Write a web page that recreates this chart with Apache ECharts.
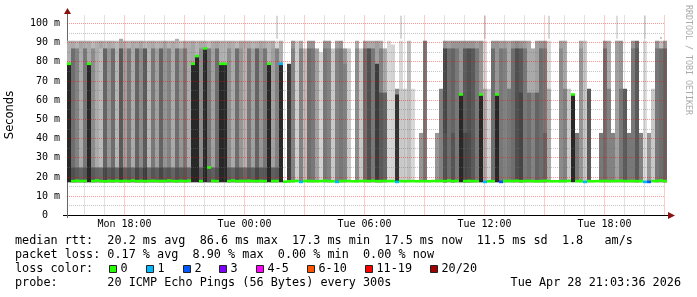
<!DOCTYPE html>
<html><head><meta charset="utf-8">
<script src="https://cdn.jsdelivr.net/npm/echarts@6/dist/echarts.min.js"></script>
<style>html,body{margin:0;padding:0;background:#fff}#c{width:697px;height:297px}</style>
</head><body><div id="c"></div>
<script>
// time axis in hours relative to Mon 18:00
const T0 = -2.875, BIN = 0.2, SPAN = 29.9, Y_MAX = 104.4;
const smokeFloor = 17.3;
const xTickHours = [0, 6, 12, 18, 24];
const xTickLabels = ['Mon 18:00', 'Tue 00:00', 'Tue 06:00', 'Tue 12:00', 'Tue 18:00'];
const yTicks = [0, 10, 20, 30, 40, 50, 60, 70, 80, 90, 100];

// smoke: per 12-minute bin, top (ms) and gray level of three layers
const smokeMax = [
 91,91,91,91,91,91,91,91,91,91,
 91,91,91,92,91,91,91,91,91,91,
 91,91,91,91,91,91,91,92,91,91,
 91,91,91,91,91,91,91,91,91,91,
 91,91,91,91,91,91,91,91,91,91,
 91,91,104,91,0,79,91,91,91,87,
 91,91,87,85,91,91,87,91,91,87,
 87,0,91,87,91,91,91,91,91,87,
 91,89,66,104,66,91,66,0,43,91,
 0,0,43,66,91,91,91,91,91,91,
 91,91,91,91,104,66,91,91,91,91,
 91,91,91,91,91,91,87,91,91,91,
 104,0,0,91,91,66,63,43,91,91,
 66,0,0,43,91,91,43,104,91,66,
 43,91,91,43,104,43,66,91,93,91];
const smokeMaxShade = [
 175,170,180,165,175,170,185,175,165,180,
 170,175,185,165,175,180,170,175,165,185,
 175,170,180,175,165,180,170,175,185,170,
 175,165,180,170,175,185,170,165,175,180,
 170,175,185,165,175,170,180,175,165,175,
 180,170,215,175,0,60,150,205,170,190,
 150,150,160,210,150,150,200,160,150,150,
 200,0,170,200,160,170,170,160,170,170,
 215,210,140,215,205,190,215,0,150,120,
 0,0,150,130,150,160,150,150,150,150,
 150,150,160,150,215,210,150,150,160,160,
 170,150,140,150,160,170,170,160,150,150,
 215,0,0,160,170,200,40,120,170,200,
 90,0,0,120,150,170,130,220,150,90,
 120,150,110,130,220,150,200,150,190,150];
const smokeMid = [
 79,87,87,87,87,79,87,87,87,87,
 87,87,87,87,87,87,87,87,87,87,
 87,87,87,87,87,87,87,87,87,87,
 87,79,83,87,87,87,87,87,79,79,
 87,87,87,87,87,87,87,87,87,87,
 79,87,87,79,0,0,87,0,87,0,
 87,87,0,0,87,87,0,87,87,79,
 0,0,87,0,87,87,87,79,87,64,
 0,0,63,66,0,0,0,0,0,0,
 0,0,0,0,87,87,87,87,63,87,
 87,87,87,63,66,0,87,63,87,87,
 66,87,87,87,87,64,64,64,87,87,
 66,0,0,87,66,0,0,0,87,0,
 0,0,0,0,87,66,0,91,66,0,
 0,87,87,0,0,0,0,87,87,87];
const smokeMidShade = [
 40,110,130,170,120,40,140,170,185,100,
 150,110,180,90,160,120,170,100,140,90,
 180,120,160,100,150,130,170,110,150,120,
 170,40,40,140,40,120,160,110,40,40,
 140,170,110,150,180,120,160,100,150,120,
 40,160,130,40,0,0,130,0,130,0,
 110,120,0,0,120,130,0,130,120,130,
 0,0,140,0,110,80,120,60,130,100,
 0,0,50,200,0,0,0,0,0,0,
 0,0,0,0,70,110,100,120,40,90,
 80,90,120,40,170,0,110,40,120,130,
 120,110,80,90,120,110,130,100,110,120,
 170,0,0,140,130,0,0,0,150,0,
 0,0,0,0,110,130,0,160,120,0,
 0,120,90,0,0,0,0,120,110,100];
const smokeLow = [
 0,25,25,25,25,0,25,25,25,25,
 25,25,25,25,25,25,25,25,25,25,
 25,25,25,25,25,25,25,25,25,25,
 25,0,0,25,0,25,25,25,0,0,
 25,25,25,25,25,25,25,25,25,25,
 0,25,25,0,0,0,0,0,0,0,
 0,0,0,0,0,0,0,0,0,0,
 0,0,0,0,0,0,0,0,64,0,
 0,0,0,0,0,0,0,0,0,0,
 0,0,0,0,43,0,43,0,0,43,
 43,0,0,0,0,0,0,0,0,0,
 0,0,0,64,0,0,0,0,0,43,
 0,0,0,0,0,0,0,0,0,0,
 0,0,0,0,0,0,0,0,0,0,
 0,0,0,0,0,0,0,0,0,0];
const smokeLowShade = [
 0,80,90,100,85,0,90,100,105,70,
 90,80,100,60,95,85,100,70,90,60,
 105,85,95,70,90,85,100,80,90,85,
 100,0,0,90,0,85,95,80,0,0,
 90,100,80,90,105,85,95,70,90,85,
 0,95,90,0,0,0,0,0,0,0,
 0,0,0,0,0,0,0,0,0,0,
 0,0,0,0,0,0,0,0,90,0,
 0,0,0,0,0,0,0,0,0,0,
 0,0,0,0,80,0,85,0,0,70,
 75,0,0,0,0,0,0,0,0,0,
 0,0,0,70,0,0,0,0,0,100,
 0,0,0,0,0,0,0,0,0,0,
 0,0,0,0,0,0,0,0,0,0,
 0,0,0,0,0,0,0,0,0,0];
const medianRtt = [
 79,17.9,18.1,17.9,18.0,79,17.9,18.2,17.9,17.8,
 18.0,17.9,18.1,17.9,18.0,17.9,18.2,17.9,18.0,17.9,
 17.9,18.1,17.9,18.0,17.9,18.2,17.9,17.9,18.0,17.9,
 18.1,79,83,17.9,87,25,18.0,17.9,79,79,
 17.9,18.2,17.9,18.0,17.9,18.1,17.9,17.9,18.0,17.9,
 79,17.9,18.0,79,17.6,17.8,17.9,18.0,17.5,17.9,
 18.0,17.9,17.8,17.9,18.1,17.9,17.8,17.5,17.9,18.0,
 17.9,17.8,17.9,17.9,18.0,17.9,18.1,17.9,17.9,18.0,
 17.9,17.9,17.5,17.9,17.8,17.9,17.9,17.8,17.9,17.9,
 17.8,17.9,17.9,18.0,17.9,18.2,17.9,18.0,63,17.9,
 18.0,17.9,17.9,63,17.5,17.8,17.9,63,17.5,17.9,
 18.0,17.9,18.1,17.9,17.9,18.0,17.9,17.8,17.9,18.1,
 17.9,17.8,17.8,17.9,17.9,18.0,63,17.9,17.9,17.5,
 17.9,17.8,17.9,17.9,18.0,17.9,17.9,17.9,18.1,17.9,
 17.9,18.0,17.9,17.9,17.5,17.5,17.9,18.0,18.2,17.9];
const lossCount = [
 0,0,0,0,0,0,0,0,0,0, 0,0,0,0,0,0,0,0,0,0,
 0,0,0,0,0,0,0,0,0,0, 0,0,0,0,0,0,0,0,0,0,
 0,0,0,0,0,0,0,0,0,0, 0,0,0,1,0,0,0,0,1,0,
 0,0,0,0,0,0,0,1,0,0, 0,0,0,0,0,0,0,0,0,0,
 0,0,1,0,0,0,0,0,0,0, 0,0,0,0,0,0,0,0,0,0,
 0,0,0,0,1,0,0,0,2,0, 0,0,0,0,0,0,0,0,0,0,
 0,0,0,0,0,0,0,0,0,1, 0,0,0,0,0,0,0,0,0,0,
 0,0,0,0,1,2,0,0,0,0];

const lossLabels = ['0', '1', '2', '3', '4-5', '6-10', '11-19', '20/20'];
const lossColors = ['#26ff00', '#00b8ff', '#0059ff', '#7e00ff', '#ff00ff', '#ff5500', '#ff0000', '#a10000'];
const legendLines = [
  'median rtt:  20.2 ms avg  86.6 ms max  17.3 ms min  17.5 ms now  11.5 ms sd  1.8   am/s',
  'packet loss: 0.17 % avg  8.90 % max  0.00 % min  0.00 % now',
  'loss color:',
  'probe:       20 ICMP Echo Pings (56 Bytes) every 300s'
];
const stampText = 'Tue Apr 28 21:03:36 2026';

// layout (pixels)
const legendBoxX = [109, 146, 183, 219, 256, 307, 365, 430];
const MONO = '"DejaVu Sans Mono", monospace';
const SPIKE_FROM = 92; // portion of the max layer above this is drawn as a thin spike

const binCenter = i => T0 + BIN * i + BIN / 2;
const smokeData = smokeMax.map((v, i) => [binCenter(i), v, smokeMaxShade[i], smokeMid[i], smokeMidShade[i], smokeLow[i], smokeLowShade[i]]);
const medianData = medianRtt.map((v, i) => [binCenter(i), v, lossCount[i]]);
const gridData = [];
for (let v = 5; v <= 100; v += 5) gridData.push([0, v, v % 10 === 0 ? 1 : 0]);
for (let h = Math.ceil(T0); h <= T0 + SPAN; h++) gridData.push([1, h, h % 3 === 0 ? 1 : 0]);

const chart = echarts.init(document.getElementById('c'), null, {renderer: 'canvas'});
const graphic = [];
legendLines.forEach((t, k) => graphic.push({type: 'text', silent: true, style: {text: t, x: 15, y: 241 + 14 * k, font: '11.8px ' + MONO, fill: '#000', verticalAlign: 'middle'}}));
graphic.push({type: 'text', silent: true, style: {text: stampText, x: 681, y: 283, font: '11.8px ' + MONO, fill: '#000', align: 'right', verticalAlign: 'middle'}});
lossLabels.forEach((l, k) => {
  graphic.push({type: 'rect', silent: true, shape: {x: legendBoxX[k] + 0.5, y: 265.5, width: 7, height: 7}, style: {fill: lossColors[k], stroke: '#222', lineWidth: 1}});
  graphic.push({type: 'text', silent: true, style: {text: l, x: legendBoxX[k] + 11.5, y: 269, font: '11.8px ' + MONO, fill: '#000', verticalAlign: 'middle'}});
});
graphic.push({type: 'text', silent: true, x: 10.5, y: 115, rotation: Math.PI / 2, style: {text: 'Seconds', font: '11.5px "DejaVu Sans"', fill: '#000', align: 'center', verticalAlign: 'middle'}});
graphic.push({type: 'text', silent: true, x: 688, y: 60, rotation: -Math.PI / 2, style: {text: 'RRDTOOL / TOBI OETIKER', font: '8.3px ' + MONO, fill: '#aaaaaa', align: 'center', verticalAlign: 'middle'}});
// axis extensions and arrows
graphic.push({type: 'line', silent: true, shape: {x1: 63, y1: 215.5, x2: 669, y2: 215.5}, style: {stroke: '#000', lineWidth: 1}});
graphic.push({type: 'line', silent: true, shape: {x1: 67.5, y1: 218, x2: 67.5, y2: 12}, style: {stroke: '#666', lineWidth: 1}});
graphic.push({type: 'polygon', silent: true, shape: {points: [[668, 212], [668, 219], [675, 215.5]]}, style: {fill: '#8b1010'}});
graphic.push({type: 'polygon', silent: true, shape: {points: [[64, 14], [71, 14], [67.5, 8]]}, style: {fill: '#8b1010'}});

chart.setOption({
  animation: false,
  backgroundColor: '#fff',
  grid: {left: 67, right: 697 - 665, top: 15, bottom: 81.5, containLabel: false},
  xAxis: {
    type: 'value', min: T0, max: T0 + SPAN,
    axisLine: {show: false}, axisTick: {show: false}, splitLine: {show: false},
    axisLabel: {customValues: xTickHours, formatter: v => xTickLabels[xTickHours.indexOf(v)] || '', fontFamily: MONO, fontSize: 10, color: '#000', margin: 4}
  },
  yAxis: {
    type: 'value', min: 0, max: Y_MAX, interval: 10,
    axisLine: {show: false}, axisTick: {show: false}, splitLine: {show: false},
    axisLabel: {customValues: yTicks, formatter: v => v === 0 ? '0  ' : v + ' m', fontFamily: MONO, fontSize: 10, color: '#000', margin: 7}
  },
  series: [
    {
      type: 'custom', z: 1, silent: true, data: smokeData, encode: {x: 0, y: 1},
      renderItem(p, api) {
        const c = api.value(0), x0 = c - BIN / 2, x1 = c + BIN / 2;
        const children = [];
        [[1, 2], [3, 4], [5, 6]].forEach(([vi, ci], layer) => {
          let top = api.value(vi);
          if (!top) return;
          const g = api.value(ci);
          const fill = 'rgb(' + g + ',' + g + ',' + g + ')';
          if (layer === 0 && top > SPIKE_FROM) {
            const s0 = api.coord([c, SPIKE_FROM]), s1 = api.coord([c, top]);
            children.push({type: 'rect', shape: {x: Math.round(s0[0]) - 1, y: s1[1], width: 2, height: s0[1] - s1[1]}, style: {fill}});
            top = SPIKE_FROM - 1;
          }
          const a = api.coord([x0, smokeFloor]), b = api.coord([x1, top]);
          children.push({type: 'rect', shape: {x: a[0], y: b[1], width: b[0] - a[0], height: a[1] - b[1]}, style: {fill}});
        });
        return {type: 'group', children};
      }
    },
    {
      type: 'custom', z: 2, silent: true, data: gridData, encode: {x: 1, y: 1},
      renderItem(p, api) {
        const vert = api.value(0) === 1, v = api.value(1), major = api.value(2) === 1;
        const a = vert ? api.coord([v, 0]) : api.coord([T0, v]);
        const b = vert ? api.coord([v, Y_MAX]) : api.coord([T0 + SPAN, v]);
        const y = Math.round(a[1] - 0.5) + 0.5;
        return {type: 'line', shape: vert ? {x1: a[0], y1: a[1], x2: b[0], y2: b[1]} : {x1: a[0], y1: y, x2: b[0], y2: y},
          style: {stroke: major ? 'rgba(255,0,0,0.42)' : 'rgba(110,110,110,0.4)', lineWidth: 1, lineDash: [1, 1]}};
      }
    },
    {
      type: 'custom', z: 3, silent: true, data: medianData, encode: {x: 0, y: 1},
      renderItem(p, api) {
        const c = api.value(0), m = api.value(1), l = api.value(2);
        const a = api.coord([c - BIN / 2, m]), b = api.coord([c + BIN / 2, m]);
        return {type: 'rect', shape: {x: a[0], y: a[1] - 1.3, width: b[0] - a[0], height: 2.6}, style: {fill: lossColors[l]}};
      }
    }
  ],
  graphic
});
</script></body></html>
